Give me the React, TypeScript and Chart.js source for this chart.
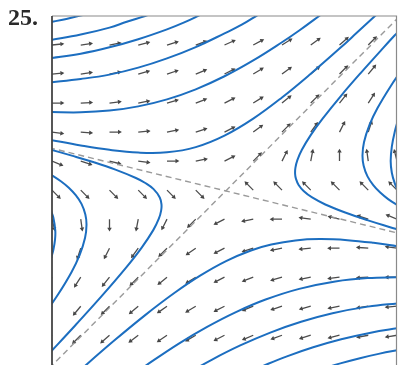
import { useEffect, useRef } from "react";
import { Chart, registerables } from "chart.js";

Chart.register(...registerables);

// ---- Direction field: grid of arrow tails and their direction angles (degrees, CCW from +x)
const GRID_X = [-3, -2.5, -2, -1.5, -1, -0.5, 0, 0.5, 1, 1.5, 2, 2.5, 3];
const GRID_Y = [2.5, 2, 1.5, 1, 0.5, 0, -0.5, -1, -1.5, -2, -2.5];
const ARROW_ANGLES: (number | null)[][] = [
  [6, 8, 11, 14, 17, 20, 24, 28, 32, 36, 41, 45, 49],
  [5, 8, 11, 15, 18, 22, 27, 31, 36, 40, 45, 50, 54],
  [0, 3, 7, 11, 16, 21, 27, 32, 39, 45, 51, 57, 63],
  [-8, -4, 0, 5, 11, 18, 27, 36, 45, 54, 63, 72, 79],
  [-22, -18, -14, -8, 0, 11, 27, 45, 63, 79, 90, 98, 104],
  [-45, -45, -45, -45, -45, -45, null, 135, 135, 135, 135, 135, 135],
  [-76, -82, -90, -101, -117, -135, -153, -169, 180, 172, 166, 162, 158],
  [-101, -108, -117, -126, -135, -145, -153, -162, -169, -175, 180, 176, 172],
  [-117, -123, -129, -135, -141, -148, -153, -159, -164, -169, -173, -177, 180],
  [-126, -130, -135, -140, -145, -149, -153, -158, -162, -165, -169, -172, -175],
  [-131, -135, -139, -143, -146, -150, -153, -157, -160, -163, -166, -169, -171],
];

// ---- Trajectories (x, y)
const TOP_1 = [[-3.05, 2.89], [-2.75, 2.95], [-2.45, 3.02]];
const TOP_2 = [[-3.05, 2.58], [-2.5, 2.68], [-2, 2.8], [-1.7, 2.9], [-1.38, 3.0], [-1.3, 3.03]];
const TOP_3 = [[-3.05, 2.27], [-2.5, 2.35], [-2, 2.46], [-1.5, 2.6], [-1, 2.77], [-0.7, 2.89], [-0.4, 3.03]];
const TOP_4 = [[-3.05, 1.855], [-2.5, 1.915], [-2, 1.99], [-1.5, 2.11], [-1, 2.27], [-0.5, 2.465], [0, 2.7], [0.3, 2.85], [0.6, 3.03]];
const TOP_5 = [[-3.05, 1.345], [-2.5, 1.34], [-2, 1.37], [-1.5, 1.443], [-1, 1.564], [-0.5, 1.737], [0, 1.962], [0.5, 2.235], [1, 2.548], [1.3, 2.75], [1.7, 3.04]];
const TOP_6 = [[-3.05, 0.87], [-2.5, 0.77], [-2, 0.694], [-1.5, 0.647], [-1, 0.651], [-0.5, 0.741], [0, 0.939], [0.5, 1.232], [1, 1.597], [1.5, 2.005], [2, 2.438], [2.3, 2.71], [2.65, 3.03]];

const LEFT_1 = [[-3.05, 0.705], [-2.656, 0.594], [-2.27, 0.479], [-1.897, 0.353], [-1.541, 0.209], [-1.377, 0.123], [-1.233, 0.017], [-1.126, -0.126], [-1.096, -0.246], [-1.102, -0.352], [-1.142, -0.492], [-1.239, -0.689], [-1.44, -0.99], [-1.719, -1.344], [-2.137, -1.827], [-2.601, -2.336], [-3.05, -2.815]];
const LEFT_2 = [[-3.058, 0.292], [-2.846, 0.154], [-2.708, 0.042], [-2.587, -0.087], [-2.487, -0.237], [-2.42, -0.42], [-2.4, -0.6], [-2.426, -0.826], [-2.52, -1.12], [-2.659, -1.409], [-2.89, -1.79], [-3.118, -2.118]];
const LEFT_3 = [[-3.014, -0.364], [-2.976, -0.476], [-2.943, -0.693], [-2.947, -0.847], [-2.976, -1.026], [-3.013, -1.163]];

const RIGHT_1 = [[3.074, 2.789], [2.757, 2.447], [2.371, 2.021], [2.03, 1.63], [1.703, 1.228], [1.502, 0.952], [1.346, 0.696], [1.267, 0.517], [1.233, 0.383], [1.228, 0.278], [1.243, 0.193], [1.289, 0.089], [1.381, -0.019], [1.524, -0.126], [1.753, -0.247], [2.11, -0.39], [2.483, -0.517], [2.866, -0.634], [3.06, -0.69]];
const RIGHT_2 = [[3.118, 2.118], [2.89, 1.79], [2.659, 1.409], [2.52, 1.12], [2.426, 0.826], [2.4, 0.6], [2.42, 0.42], [2.487, 0.237], [2.587, 0.087], [2.708, -0.042], [2.846, -0.154], [3.058, -0.292]];
const RIGHT_3 = [[3.03, 1.25], [2.96, 1.0], [2.91, 0.75], [2.89, 0.5], [2.91, 0.3], [2.96, 0.12], [3.03, -0.05]];

const BOTTOM_1 = [[3.03, -0.97], [2.592, -0.908], [2.138, -0.862], [1.656, -0.844], [1.233, -0.867], [0.813, -0.938], [0.46, -1.04], [0.027, -1.223], [-0.424, -1.474], [-0.873, -1.773], [-1.374, -2.149], [-1.913, -2.588], [-2.447, -3.047], [-2.895, -3.445]];
const BOTTOM_2 = [[3.05, -1.5], [2.485, -1.515], [1.926, -1.574], [1.299, -1.701], [0.715, -1.885], [0.199, -2.101], [-0.31, -2.36], [-0.794, -2.644], [-1.38, -3.03], [-1.548, -3.148]];
const BOTTOM_3 = [[3.05, -1.947], [2.493, -2.007], [1.879, -2.121], [1.332, -2.268], [0.796, -2.454], [0.274, -2.676], [-0.223, -2.923], [-0.674, -3.174]];
const BOTTOM_4 = [[3.05, -2.373], [2.544, -2.456], [2.03, -2.57], [1.542, -2.708], [1.086, -2.864], [0.673, -3.027], [0.497, -3.103]];
const BOTTOM_5 = [[3.11, -2.739], [2.68, -2.821], [2.355, -2.895], [2.015, -2.985], [1.656, -3.094]];

const TRAJECTORIES = [
  TOP_1, TOP_2, TOP_3, TOP_4, TOP_5, TOP_6,
  LEFT_1, LEFT_2, LEFT_3,
  RIGHT_1, RIGHT_2, RIGHT_3,
  BOTTOM_1, BOTTOM_2, BOTTOM_3, BOTTOM_4, BOTTOM_5,
];

// ---- Straight-line solutions (eigenvector directions), dashed
const LINE_UNSTABLE = [[-3.05, -3.07], [3.05, 3.0]];
const LINE_STABLE = [[-3.05, 0.732], [3.05, -0.749]];

const ARROW_LEN = 0.17;

const toPts = (arr: number[][]) => arr.map(([x, y]) => ({ x, y }));

const framePlugin = {
  id: "frame",
  afterDatasetsDraw(chart: any) {
    const { ctx, chartArea: a } = chart;
    ctx.save();
    ctx.strokeStyle = "#8a8a8a";
    ctx.lineWidth = 1.2;
    ctx.beginPath();
    ctx.moveTo(a.left, a.top);
    ctx.lineTo(a.right - 0.5, a.top);
    ctx.lineTo(a.right - 0.5, a.bottom);
    ctx.stroke();
    ctx.strokeStyle = "#444";
    ctx.lineWidth = 1.8;
    ctx.beginPath();
    ctx.moveTo(a.left, a.top);
    ctx.lineTo(a.left, a.bottom);
    ctx.stroke();
    ctx.restore();
  },
};

export default function App() {
  const ref = useRef<HTMLCanvasElement | null>(null);

  useEffect(() => {
    if (!ref.current) return;

    const shafts: { x: number; y: number }[] = [];
    const heads: { x: number; y: number }[] = [];
    const rotations: number[] = [];
    GRID_Y.forEach((gy, r) => {
      GRID_X.forEach((gx, c) => {
        const a = ARROW_ANGLES[r][c];
        if (a === null) return;
        const rad = (a * Math.PI) / 180;
        const hx = gx + ARROW_LEN * Math.cos(rad);
        const hy = gy + ARROW_LEN * Math.sin(rad);
        shafts.push({ x: gx, y: gy }, { x: hx, y: hy }, { x: NaN, y: NaN });
        heads.push({ x: hx, y: hy });
        rotations.push(90 - a);
      });
    });

    const curveSets = TRAJECTORIES.map((t) => ({
      data: toPts(t),
      showLine: true,
      borderColor: "#1c6ec0",
      borderWidth: 2,
      pointRadius: 0,
      tension: 0.4,
      clip: 0,
      order: 0,
    }));

    const dashSets = [LINE_UNSTABLE, LINE_STABLE].map((l) => ({
      data: toPts(l),
      showLine: true,
      borderColor: "#9a9a9a",
      borderWidth: 1.4,
      borderDash: [6, 4],
      pointRadius: 0,
      clip: 0,
      order: 1,
    }));

    const chart = new Chart(ref.current, {
      type: "scatter",
      data: {
        datasets: [
          ...curveSets,
          ...dashSets,
          {
            data: shafts,
            showLine: true,
            spanGaps: false,
            borderColor: "#4d4d4d",
            borderWidth: 1.3,
            pointRadius: 0,
            clip: 0,
            order: 2,
          },
          {
            data: heads,
            showLine: false,
            pointStyle: "triangle",
            pointRadius: 2.6,
            pointRotation: rotations,
            backgroundColor: "#444",
            borderColor: "#444",
            borderWidth: 0,
            clip: 0,
            order: 2,
          },
        ] as any,
      },
      options: {
        animation: false,
        responsive: false,
        devicePixelRatio: 1,
        events: [],
        layout: { padding: { left: 52, top: 16, right: 1, bottom: 4 } },
        plugins: {
          legend: { display: false },
          tooltip: { enabled: false },
          title: { display: false },
        },
        scales: {
          x: { type: "linear", min: -3, max: 3, display: false },
          y: { type: "linear", min: -3.03, max: 3, display: false },
        },
      } as any,
      plugins: [framePlugin],
    });

    return () => chart.destroy();
  }, []);

  return (
    <div
      style={{
        position: "absolute",
        left: 0,
        top: 0,
        width: 401,
        height: 365,
        overflow: "hidden",
        background: "#fff",
      }}
    >
      <canvas ref={ref} width={401} height={370} style={{ display: "block" }} />
      <div
        style={{
          position: "absolute",
          left: 8,
          top: 5,
          fontFamily: '"Liberation Serif", "DejaVu Serif", serif',
          fontWeight: "bold",
          fontSize: 24,
          lineHeight: "24px",
          color: "#2a2a2a",
        }}
      >
        25.
      </div>
    </div>
  );
}
